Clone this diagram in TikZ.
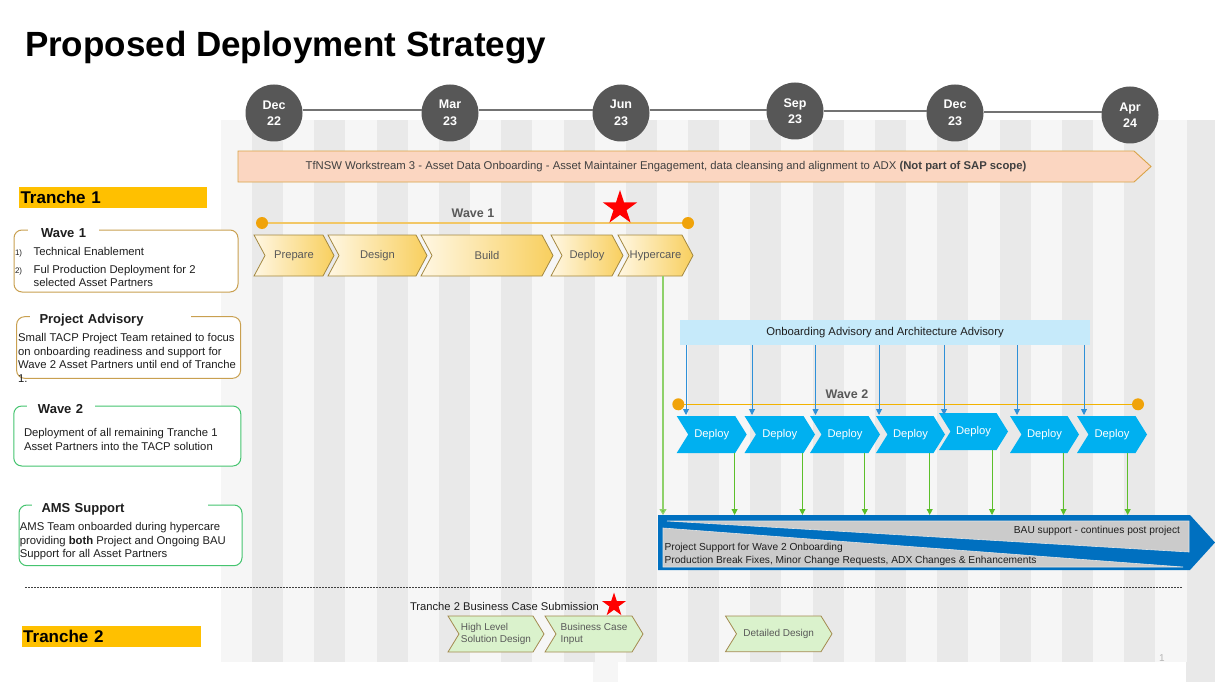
\documentclass[tikz,border=0pt]{standalone}
\usepackage{fontspec}
\setmainfont{Liberation Sans}
\usetikzlibrary{shapes.geometric,arrows.meta}

\definecolor{bglight}{HTML}{F6F6F6}
\definecolor{bgdark}{HTML}{E9E9E9}
\definecolor{circfill}{HTML}{575757}
\definecolor{tline}{HTML}{737373}
\definecolor{peach}{HTML}{FBD6C1}
\definecolor{peachb}{HTML}{D9A347}
\definecolor{banntxt}{HTML}{404040}
\definecolor{tranchey}{HTML}{FFC000}
\definecolor{goldb}{HTML}{C9A050}
\definecolor{greenb}{HTML}{45C46F}
\definecolor{wonel}{HTML}{F2C766}
\definecolor{dotc}{HTML}{F0A30A}
\definecolor{wtwol}{HTML}{F2B200}
\definecolor{chevlight}{HTML}{FFF7E3}
\definecolor{chevgold}{HTML}{F8CF5E}
\definecolor{chevb}{HTML}{A38840}
\definecolor{txtgray}{HTML}{595959}
\definecolor{deployblue}{HTML}{00B0F0}
\definecolor{advblue}{HTML}{C6EAFA}
\definecolor{arrblue}{HTML}{2E90D8}
\definecolor{arrgreen}{HTML}{5CBF2A}
\definecolor{hcgreen}{HTML}{8ED16A}
\definecolor{baublue}{HTML}{0070C0}
\definecolor{baugray}{HTML}{CBCBCB}
\definecolor{bauedge}{HTML}{E2E2E2}
\definecolor{lgreen}{HTML}{DAF2CC}
\definecolor{lgreenb}{HTML}{A38A4F}
\definecolor{bodytxt}{HTML}{1E1E1E}
\definecolor{pagenum}{HTML}{B5B5B5}

\newcommand\chd{11}
% #1 shape style, #2 text style, #3 name, #4 x1, #5 x2, #6 ytop, #7 ybottom, #8 text
\newcommand\chev[8]{%
  \path[#1] (#4,#6) -- ({#5-\chd},#6) -- (#5,{(#6+#7)/2}) -- ({#5-\chd},#7)
     -- (#4,#7) -- ({#4+\chd},{(#6+#7)/2}) -- cycle;
  \node[#2, minimum width={#5-#4}, minimum height={#7-#6}] (#3)
     at ({(#4+#5)/2},{(#6+#7)/2}) {#8};%
}

\tikzset{
  every node/.style={inner sep=0pt, outer sep=0pt},
  datecirc/.style={circle, fill=circfill, minimum size=57, text=white, align=center,
     font=\bfseries\fontsize{12.5}{16.5}\selectfont},
  tl/.style={draw=tline, line width=2},
  banner/.style={fill=peach, draw=peachb, line width=0.9},
  tranchelbl/.style={fill=tranchey, minimum height=21, inner xsep=1.5, align=left,
     font=\bfseries\fontsize{17}{20}\selectfont, anchor=north west},
  goldbox/.style={draw=goldb, fill=white, rounded corners=8, line width=1, anchor=north west},
  greenbox/.style={draw=greenb, fill=white, rounded corners=8, line width=1, anchor=north west},
  btitle/.style={fill=white, align=left, anchor=base west, text=bodytxt,
     font=\bfseries\fontsize{13}{15}\selectfont},
  btext/.style={anchor=base west, text=bodytxt, font=\fontsize{11.3}{13.6}\selectfont},
  numtext/.style={anchor=base west, text=bodytxt, font=\fontsize{8}{9}\selectfont},
  dotn/.style={circle, fill=dotc, minimum size=12},
  wlabel/.style={text=txtgray, font=\bfseries\fontsize{12.5}{14}\selectfont},
  redstar/.style={star, star points=5, star point ratio=2.618, fill=red},
  wonechev/.style={draw=chevb, line width=0.8, left color=chevlight, right color=chevgold},
  chevtxt/.style={text=txtgray, font=\fontsize{11.2}{13}\selectfont},
  bluechev/.style={fill=deployblue},
  deploytxt/.style={text=white, font=\fontsize{11.2}{13}\selectfont},
  grchev/.style={fill=lgreen, draw=lgreenb, line width=0.8},
  grtxt/.style={text=txtgray, align=left, font=\fontsize{10}{11.6}\selectfont},
  barrow/.style={draw=arrblue, line width=1, -{Triangle[width=6pt,length=6pt]}},
  garrow/.style={draw=arrgreen, line width=1, -{Triangle[width=6pt,length=6pt]}},
  hcarrow/.style={draw=hcgreen, line width=1.3, -{Triangle[width=7pt,length=6pt,fill=arrgreen]}},
  bautxt/.style={text=bodytxt, font=\fontsize{10.2}{12}\selectfont},
  dashln/.style={draw=black!75, line width=0.8, dash pattern=on 2pt off 1pt},
}

\begin{document}
\begin{tikzpicture}[x=1pt, y=-1pt]
\useasboundingbox (0,0) rectangle (1215,682);
\fill[white] (0,0) rectangle (1215,682);

% striped background
\fill[bglight] (221,120) rectangle (1215,662);
\foreach \k in {0,...,15} \fill[bgdark] ({252+62.3*\k},120) rectangle ({283+62.3*\k},662);
\fill[bglight] (593,662) rectangle (618,682);
\fill[bgdark] (1186,662) rectangle (1215,682);

% title
\node[anchor=base west, font=\bfseries\fontsize{35}{40}\selectfont] (title) at (25,57)
  {Proposed Deployment Strategy};

% timeline
\foreach \n/\x/\y/\m/\yy in {c1/274/113/Dec/22, c2/450/113/Mar/23, c3/621/113/Jun/23,
                              c4/795/111/Sep/23, c5/955/113/Dec/23, c6/1130/115/Apr/24}
  \node[datecirc] (\n) at (\x,\y) {\m\\\yy};
\foreach \a/\b/\ly in {c1/c2/110,c2/c3/110,c3/c4/110,c4/c5/111.5,c5/c6/112.5}{
  \coordinate (ly\a) at (0,\ly);
  \draw[tl] (\a.east |- ly\a) -- (\b.west |- ly\a);
}

% workstream banner
\path[banner] (238,151) -- (1134,151) -- (1151,166.5) -- (1134,182) -- (238,182) -- cycle;
\node[text=banntxt, font=\fontsize{11.3}{13}\selectfont] (ws3) at (666,167)
  {TfNSW Workstream 3 - Asset Data Onboarding - Asset Maintainer Engagement, data cleansing and alignment to ADX \textbf{(Not part of SAP scope)}};

% tranche labels
\node[tranchelbl, text width=185] (tr1) at (19,187) {Tranche 1};
\node[tranchelbl, text width=176] (tr2) at (21.7,626) {Tranche 2};

% left boxes
\node[goldbox, minimum width=224, minimum height=62] (w1box) at (14,230) {};
\node[btitle, text width=71] (w1title) at (28,237) {\hspace*{13pt}Wave 1};
\node[numtext] (w1n1) at (15,255.5) {1)};
\node[btext] (w1i1) at (33.6,255.5) {Technical Enablement};
\node[numtext] (w1n2) at (15,273) {2)};
\node[btext] (w1i2) at (33.6,273) {Ful Production Deployment for 2};
\node[btext] (w1i2b) at (33.6,286.5) {selected Asset Partners};

\node[goldbox, minimum width=224, minimum height=61.6] (pabox) at (16.6,316.7) {};
\node[btitle, text width=160.6] (patitle) at (30,323) {\hspace*{9.5pt}Project Advisory};
\node[btext] (pa1) at (18.2,341.7) {Small TACP Project Team retained to focus};
\node[btext] (pa2) at (18.2,355.3) {on onboarding readiness and support for};
\node[btext] (pa3) at (18.2,368.9) {Wave 2 Asset Partners until end of Tranche};
\node[btext] (pa4) at (18.2,382.5) {1.};

\node[greenbox, minimum width=227, minimum height=60] (w2box) at (13.8,406) {};
\node[btitle, text width=68] (w2title) at (27,413.4) {\hspace*{11pt}Wave 2};
\node[btext] (w2a) at (24,436.7) {Deployment of all remaining Tranche 1};
\node[btext] (w2b) at (24,450.7) {Asset Partners into the TACP solution};

\node[greenbox, minimum width=223, minimum height=60.7] (amsbox) at (19,505) {};
\node[btitle, text width=175.6] (amstitle) at (32,512) {\hspace*{9.5pt}AMS Support};
\node[btext] (ams1) at (19.8,530.7) {AMS Team onboarded during hypercare};
\node[btext] (ams2) at (19.8,544.3) {providing \textbf{both} Project and Ongoing BAU};
\node[btext] (ams3) at (19.8,557.9) {Support for all Asset Partners};

% Wave 1 timeline
\node[dotn] (w1s) at (262,223) {};
\node[dotn] (w1e) at (688,223) {};
\draw[draw=wonel, line width=1.2] (w1s) -- (w1e);
\node[wlabel] (w1lbl) at (473,213) {Wave 1};
\node[redstar, minimum size=36] (star1) at (620,208) {};

% Wave 1 chevrons
\chev{wonechev}{chevtxt}{prep}{254}{334}{235}{276}{Prepare}
\chev{wonechev}{chevtxt}{design}{328}{427}{235}{276}{Design}
\chev{wonechev}{chevtxt}{build}{421}{553}{235}{276}{Build}
\chev{wonechev}{chevtxt}{deploy}{551}{623}{235}{276}{Deploy}
\chev{wonechev}{chevtxt}{hyper}{618}{693}{235}{276}{Hypercare}

% onboarding advisory
\node[fill=advblue, minimum width=410, minimum height=25, text=bodytxt,
      font=\fontsize{11.3}{13}\selectfont] (oab) at (885,332.5)
  {Onboarding Advisory and Architecture Advisory};

% Wave 2 timeline
\node[dotn] (w2s) at (678.3,404.3) {};
\node[dotn] (w2e) at (1138,404.3) {};
\draw[draw=wtwol, line width=1.5] (w2s) -- (w2e);
\node[wlabel] (w2lbl) at (847,394.3) {Wave 2};

% Deploy chevrons
\renewcommand\chd{11.5}
\chev{bluechev}{deploytxt}{d1}{676.7}{746.7}{416}{453}{Deploy}
\chev{bluechev}{deploytxt}{d2}{744.5}{815}{416}{453}{Deploy}
\chev{bluechev}{deploytxt}{d3}{810}{880}{416}{453}{Deploy}
\chev{bluechev}{deploytxt}{d4}{876}{945}{416}{453}{Deploy}
\chev{bluechev}{deploytxt}{d5}{939}{1008}{413}{450}{Deploy}
\chev{bluechev}{deploytxt}{d6}{1010}{1079}{416}{453}{Deploy}
\chev{bluechev}{deploytxt}{d7}{1077}{1147}{416}{453}{Deploy}

% blue arrows from advisory to deploys
\foreach \i/\x in {1/686,2/752,3/815.5,4/879,5/944,6/1017,7/1084}{
  \coordinate (bt\i) at (\x,415);
  \draw[barrow] (oab.south -| bt\i) -- (bt\i);
}

% BAU arrow
\node[minimum width=532, minimum height=55, anchor=north west] (bau) at (658,515) {};
\fill[baublue] (bau.north west) -- (bau.north east) -- ([xshift=25pt]bau.east)
   -- (bau.south east) -- (bau.south west) -- cycle;
\path[fill=baugray, draw=bauedge, line width=0.6] (667,521) -- (1189,521) -- (1189,552) -- cycle;
\path[fill=baugray, draw=bauedge, line width=0.6] (663,528) -- (663,567) -- (1183,567) -- cycle;
\node[bautxt, anchor=base east] (baut) at (1180,533.6) {BAU support - continues post project};
\node[bautxt, anchor=base west] (pst1) at (664.6,550.6) {Project Support for Wave 2 Onboarding};
\node[bautxt, anchor=base west] (pst2) at (664.6,563.6)
  {Production Break Fixes, Minor Change Requests, ADX Changes \& Enhancements};

% green arrows from deploys to BAU
\foreach \d/\x in {d1/734.6,d2/802.4,d3/864.8,d4/929.7,d5/992,d6/1063.5,d7/1127.7}{
  \coordinate (g\d) at (\x,0);
  \draw[garrow] (\d.south -| g\d) -- (bau.north -| g\d);
}
% hypercare to BAU
\coordinate (hcx) at (663,0);
\draw[hcarrow] (hyper.south -| hcx) -- (bau.north -| hcx);

% separator
\coordinate (sepL) at (25,587);
\coordinate (sepR) at (1182,587);
\draw[dashln] (sepL) -- (sepR);

% Tranche 2
\node[btext, font=\fontsize{11.2}{13}\selectfont] (t2sub) at (410,610) {Tranche 2 Business Case Submission};
\node[redstar, minimum size=25] (star2) at (614,605) {};
\renewcommand\chd{11}
\chev{grchev}{grtxt}{hld}{448}{544}{616}{652}{High Level\\Solution Design}
\chev{grchev}{grtxt}{bci}{545}{643}{616}{652}{Business Case\\Input}
\chev{grchev}{grtxt}{dd}{725.5}{832}{616}{651.7}{Detailed Design}

% page number
\node[text=pagenum, font=\fontsize{10}{12}\selectfont] (pg) at (1162,657.7) {1};
\end{tikzpicture}
\end{document}
